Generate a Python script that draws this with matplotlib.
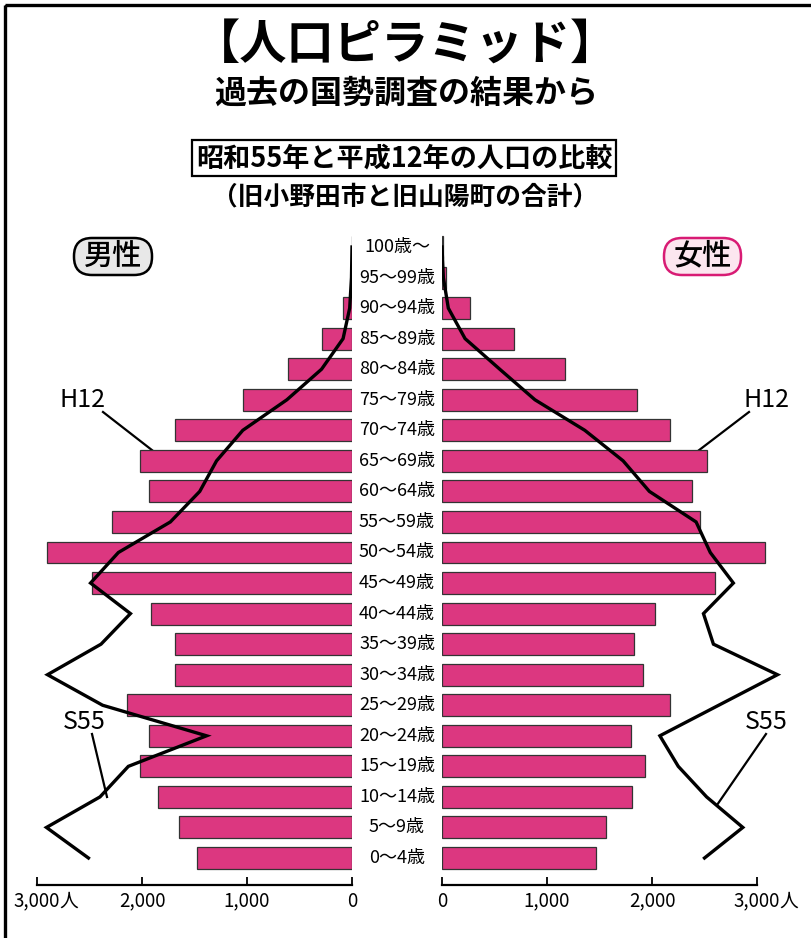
import matplotlib
matplotlib.use("Agg")
import matplotlib.pyplot as plt
from matplotlib.patches import FancyBboxPatch, Rectangle
from matplotlib.transforms import blended_transform_factory
import numpy as np

plt.rcParams['font.family'] = ['Noto Sans CJK JP', 'DejaVu Sans']

# ---------------- data ----------------
age_labels = ["0～4歳", "5～9歳", "10～14歳", "15～19歳", "20～24歳", "25～29歳",
              "30～34歳", "35～39歳", "40～44歳", "45～49歳", "50～54歳", "55～59歳",
              "60～64歳", "65～69歳", "70～74歳", "75～79歳", "80～84歳", "85～89歳",
              "90～94歳", "95～99歳", "100歳～"]
male_h12 = [1475, 1650, 1850, 2020, 1935, 2145, 1685, 1690, 1910, 2480, 2905,
            2290, 1935, 2020, 1690, 1035, 605, 290, 85, 8, 3]
female_h12 = [1465, 1565, 1805, 1935, 1800, 2170, 1910, 1825, 2030, 2600, 3075,
              2460, 2380, 2525, 2170, 1860, 1170, 690, 265, 38, 5]
male_s55 = [2510, 2910, 2400, 2130, 1385, 2375, 2900, 2390, 2110, 2490, 2225,
            1730, 1450, 1290, 1040, 620, 290, 85, 22, 5, 0]
female_s55 = [2500, 2865, 2520, 2250, 2075, 2635, 3195, 2585, 2490, 2775, 2555,
              2420, 1975, 1725, 1360, 885, 550, 220, 60, 13, 0]
tick_values = [0, 1000, 2000, 3000]
tick_labels = ["0", "1,000", "2,000", "3,000"]

BAR_COLOR = "#DC3780"
W, H = 811, 938

fig = plt.figure(figsize=(W / 100, H / 100), dpi=100)

# overlay axes in pixel coordinates for decorations
ov = fig.add_axes([0, 0, 1, 1])
ov.set_xlim(0, W)
ov.set_ylim(H, 0)
ov.axis('off')

def px_rect(l, r, t, b):
    return [l / W, (H - b) / H, (r - l) / W, (b - t) / H]

scale = 0.105  # px per person
ax_top, ax_bot = 230, 885
y_top = 20 + (247 - ax_top) / 30.55
y_bot = -(ax_bot - 858) / 30.55

axL = fig.add_axes(px_rect(20, 352, ax_top, ax_bot))
axR = fig.add_axes(px_rect(442, 800, ax_top, ax_bot))
axL.set_xlim((352 - 20) / scale, 0)
axR.set_xlim(0, (800 - 442) / scale)

y = np.arange(len(age_labels))
for ax, bars, line in ((axL, male_h12, male_s55), (axR, female_h12, female_s55)):
    ax.set_facecolor('none')
    ax.set_ylim(y_bot, y_top)
    ax.barh(y, bars, height=0.72, color=BAR_COLOR, edgecolor="#333333",
            linewidth=0.9, zorder=2)
    ax.plot(line, y, color='black', lw=2.4, solid_joinstyle='miter', zorder=3)
    for s in ('top', 'left', 'right'):
        ax.spines[s].set_visible(False)
    ax.spines['bottom'].set_bounds(0, 3000)
    ax.spines['bottom'].set_linewidth(1.6)
    ax.set_yticks([])
    ax.set_xticks(tick_values)
    ax.set_xticklabels(tick_labels, fontsize=13.5)
    ax.tick_params(axis='x', direction='in', length=6, width=1.3, pad=4)
    ax.annotate("人", xy=(3000, 0), xycoords=ax.get_xaxis_transform(),
                xytext=(15.8, -4), textcoords='offset points',
                ha='left', va='top', fontsize=13.5)

# age labels in the middle
tr = blended_transform_factory(fig.transFigure, axL.transData)
for i, lab in enumerate(age_labels):
    fig.text(397 / W, i, lab, transform=tr, ha='center', va='center', fontsize=13)

# titles
ov.text(406, 45, "【人口ピラミッド】", ha='center', va='center', fontsize=34, fontweight='bold')
ov.text(406, 94, "過去の国勢調査の結果から", ha='center', va='center', fontsize=23, fontweight='bold')
ov.text(404, 158, "昭和55年と平成12年の人口の比較", ha='center', va='center', fontsize=19.5,
        fontweight='bold',
        bbox=dict(boxstyle='square,pad=0.14', fc='white', ec='black', lw=1.6))
ov.text(405, 197, "（旧小野田市と旧山陽町の合計）", ha='center', va='center', fontsize=18.5,
        fontweight='bold')

# gender labels
ov.add_patch(FancyBboxPatch((74, 238), 78, 37, boxstyle='round,pad=0,rounding_size=18',
                            fc='#e8e8e8', ec='black', lw=1.8))
ov.text(113, 256, "男性", ha='center', va='center', fontsize=21, fontweight='medium')
ov.add_patch(FancyBboxPatch((664, 238), 77, 37, boxstyle='round,pad=0,rounding_size=18',
                            fc='#fce6ef', ec='#d81b74', lw=1.8))
ov.text(702.5, 256, "女性", ha='center', va='center', fontsize=21, fontweight='medium')

# H12 / S55 callouts
ov.text(83, 400, "H12", ha='center', va='center', fontsize=18)
ov.plot([103, 157], [412, 454], color='black', lw=1.6)
ov.text(766, 400, "H12", ha='center', va='center', fontsize=18)
ov.plot([749, 694], [412, 454], color='black', lw=1.6)
ov.text(84, 722, "S55", ha='center', va='center', fontsize=18)
ov.plot([92, 107], [734, 797], color='black', lw=1.6)
ov.text(766, 722, "S55", ha='center', va='center', fontsize=18)
ov.plot([766, 717], [734, 805], color='black', lw=1.6)

# outer frame (left and top edges visible)
ov.add_patch(Rectangle((5, 5), W + 20, H + 20, fill=False, ec='black', lw=2.4))

fig.savefig("out.png", dpi=100)
